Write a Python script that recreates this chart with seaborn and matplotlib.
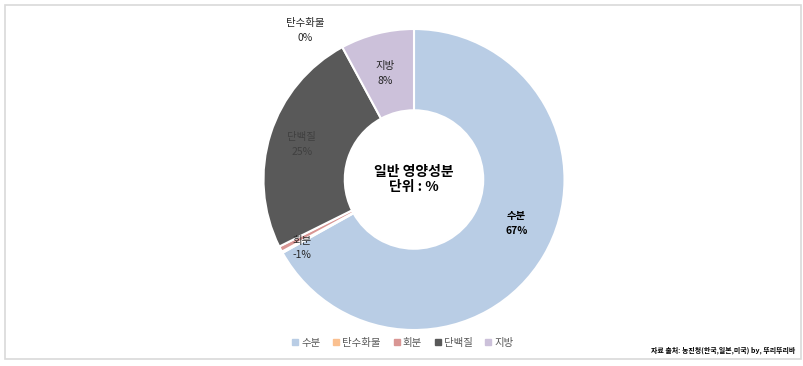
import matplotlib
matplotlib.use('Agg')
import matplotlib.pyplot as plt
import seaborn as sns
from matplotlib.patches import Rectangle

# Data
names   = ['수분', '탄수화물', '회분', '단백질', '지방']
values  = [66.9, 0.15, 0.6, 24.45, 7.9]
pct_txt = ['67%', '0%', '-1%', '25%', '8%']
colors  = ['#B9CDE5', '#FAC090', '#D99694', '#595959', '#CCC1DA']
txt_col = ['#000000', '#262626', '#262626', '#404040', '#262626']

# label placement (data coords of the pie axes, as Excel put them)
label_pos = [(0.68, -0.29), (-0.725, 0.99), (-0.745, -0.455), (-0.745, 0.233), (-0.193, 0.704)]

sns.set_theme(style='white')
plt.rcParams['font.family'] = ['Noto Sans CJK KR', 'DejaVu Sans']

W, H = 804, 366
fig = plt.figure(figsize=(W / 100, H / 100), dpi=100)
fig.patch.set_facecolor('white')

# outer frame
fig.add_artist(Rectangle((5 / W, 1 - 359 / H), 796 / W, 354 / H, transform=fig.transFigure,
                         fill=False, edgecolor='#D9D9D9', linewidth=1.2))

cx, cy, r = 414, 179.5, 150.5
ax = fig.add_axes([(cx - r) / W, (H - cy - r) / H, 2 * r / W, 2 * r / H])
wedges, _ = ax.pie(values, colors=colors, startangle=90, counterclock=False, radius=1,
                   wedgeprops=dict(width=0.54, edgecolor='white', linewidth=1.5))
ax.set_xlim(-1, 1)
ax.set_ylim(-1, 1)
ax.set_aspect('equal')
ax.axis('off')

for i in range(len(names)):
    x, y = label_pos[i]
    weight = 'bold' if names[i] == '수분' else 'normal'
    ax.text(x, y, names[i] + '\n' + pct_txt[i], ha='center', va='center', fontsize=7.5,
            color=txt_col[i], fontweight=weight, linespacing=1.6)

ax.text(0, 0, '일반 영양성분\n단위 : %', ha='center', va='center', fontsize=10,
        fontweight='bold', color='black', linespacing=1.15)

# legend
handles = [plt.Line2D([], [], marker='s', linestyle='', markersize=4, color=c) for c in colors]
fig.legend(handles, names, loc='center', bbox_to_anchor=(403 / W, 1 - 343 / H), ncol=5,
           frameon=False, fontsize=7.5, handlelength=0.6, handletextpad=0.3,
           columnspacing=1.2, labelcolor='#595959')

fig.text(795 / W, 1 - 350 / H, '자료 출처: 농진청(한국,일본,미국) by, 뚜리뚜리바', ha='right',
         va='center', fontsize=5, fontweight='bold', color='black')

fig.savefig('out.png', dpi=100)
